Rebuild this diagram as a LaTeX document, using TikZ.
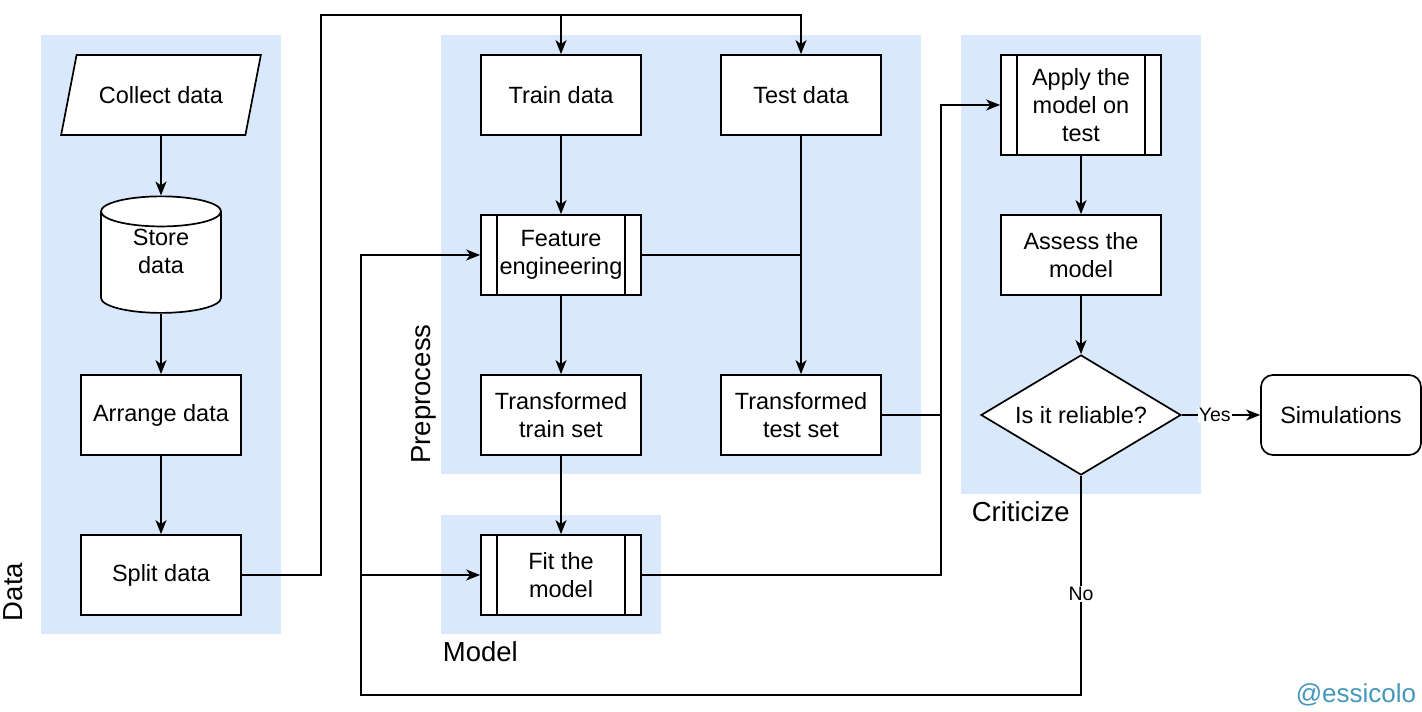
\documentclass[tikz,border=0pt]{standalone}
\usepackage{fontspec}
\setmainfont{Liberation Sans}
\usepackage{tikz}
\usetikzlibrary{positioning,shapes.geometric,arrows.meta}
\definecolor{lanefill}{HTML}{DAE8FC}
\definecolor{tagcolor}{RGB}{69,152,186}
\tikzstyle{flowchart}=[
    ->,>={Stealth[length=14pt,width=11pt,inset=4pt]},line width=1.7pt,x=1pt,y=1pt,
    node distance=160pt,on grid,
    every node/.style={font=\fontsize{23.5}{28}\selectfont, align=center},
]
\tikzstyle{lane}=[fill=lanefill, draw=none, inner sep=0pt]
\tikzstyle{proc}=[rectangle, draw, fill=white, minimum width=160pt, minimum height=80pt, inner sep=2pt]
\tikzstyle{subproc}=[proc, path picture={
    \draw[-, line width=1.7pt] ([xshift=16pt]path picture bounding box.north west) -- ([xshift=16pt]path picture bounding box.south west);
    \draw[-, line width=1.7pt] ([xshift=-16pt]path picture bounding box.north east) -- ([xshift=-16pt]path picture bounding box.south east);
}]
\tikzstyle{io}=[trapezium, trapezium left angle=63.4, trapezium right angle=116.6, trapezium stretches=true,
    draw, fill=white, minimum width=200pt, minimum height=80pt]
\tikzstyle{db}=[cylinder, shape border rotate=90, aspect=0.5, draw, fill=white, minimum width=120pt, minimum height=114pt,
    inner sep=2pt, yshift=-9.5pt, text depth=26pt]
\tikzstyle{decision}=[diamond, draw, fill=white, aspect=1.667, minimum width=200pt, minimum height=120pt, inner sep=0pt]
\tikzstyle{terminal}=[proc, rounded corners=12pt]
\tikzstyle{lanelabel}=[inner sep=0pt, font=\fontsize{27.5}{33}\selectfont]
\tikzstyle{edgetag}=[fill=white, font=\fontsize{19.5}{23}\selectfont, inner sep=1pt]

\begin{document}
\begin{tikzpicture}[flowchart]
    \useasboundingbox (0,0) rectangle (1422,712);

    % lanes
    \node[lane, minimum width=240pt, minimum height=599pt] (datalane) at (161,377.5) {};
    \node[lane, minimum width=480pt, minimum height=439pt] (prelane) at (681,457.5) {};
    \node[lane, minimum width=220pt, minimum height=119pt] (modlane) at (551,137.5) {};
    \node[lane, minimum width=240pt, minimum height=459pt] (critlane) at (1081,447.5) {};

    \node[lanelabel, rotate=90, anchor=base] (datatag) at (23,120) {Data};
    \node[lanelabel, rotate=90, anchor=base] (pretag) at (430,318) {Preprocess};
    \node[lanelabel, anchor=base west] (modtag) at (442,50) {Model};
    \node[lanelabel, anchor=base west] (crittag) at (971,190) {Criticize};

    % steps
    \node[io] (collect) at (161,617) {Collect data};
    \node[db, below=of collect] (store) {Store\\data};
    \node[proc, below=320pt of collect] (arrange) {Arrange data};
    \node[proc, below=of arrange] (split) {Split data};

    \node[proc, right=400pt of collect] (train) {Train data};
    \node[proc, right=240pt of train] (test) {Test data};
    \node[subproc, below=of train] (feature) {Feature\\engineering};
    \node[proc, below=of feature] (ttrain) {Transformed\\train set};
    \node[proc, right=240pt of ttrain] (ttest) {Transformed\\test set};
    \node[subproc, below=of ttrain] (fit) {Fit the\\model};

    \node[subproc, minimum height=100pt] (apply) at (1081,607) {Apply the\\model on\\test};
    \node[proc, right=520pt of feature] (assess) {Assess the\\model};
    \node[decision, below=of assess] (reliable) {Is it reliable?};
    \node[terminal, right=260pt of reliable] (sim) {Simulations};

    \node[anchor=base east, inner sep=0pt, text=tagcolor, font=\fontsize{26}{30}\selectfont] (tag) at (1417,9) {@essicolo};

    \coordinate (splitup) at (321,697);
    \coordinate (critbus) at (941,297);
    \coordinate (loopback) at (361,17);

    \path
        (collect) edge (store)
        (store) edge (arrange)
        (arrange) edge (split)
        (train) edge (feature)
        (feature) edge (ttrain)
        (ttrain) edge (fit)
        (test) edge (ttest)
        (apply) edge (assess)
        (assess) edge (reliable)
        (reliable) edge node[edgetag, pos=0.42] {Yes} (sim)
    ;

    \draw (split) -| (splitup) -| (test);
    \draw (train |- splitup) -- (train);
    \draw[-] (feature) -- (feature -| test);
    \draw (ttest) -- (critbus) |- (apply);
    \draw[-] (fit) -| (critbus);
    \draw (reliable) |- node[edgetag, pos=0.27] {No} (loopback) |- (feature);
    \draw (loopback |- fit) -- (fit);
\end{tikzpicture}
\end{document}
